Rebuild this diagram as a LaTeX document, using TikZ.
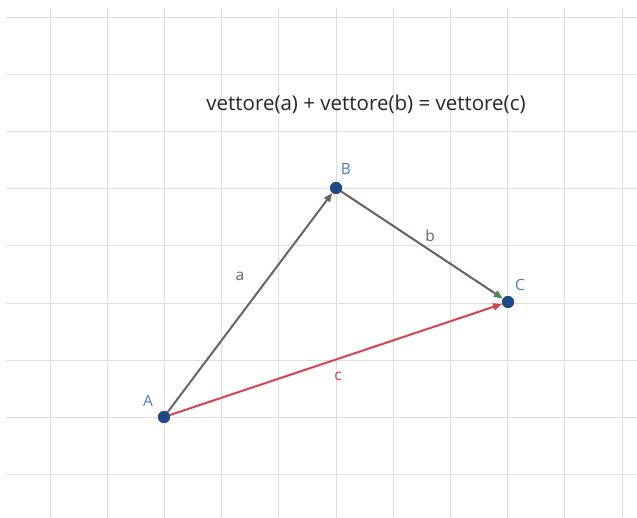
\documentclass[tikz,border=0pt]{standalone}
\usepackage{fontspec}
\setmainfont{Open Sans}
\usetikzlibrary{arrows.meta}
\definecolor{gridc}{HTML}{DEDEDE}
\definecolor{ptc}{HTML}{1F4A86}
\definecolor{lblc}{HTML}{4A7DBF}
\definecolor{vecgray}{HTML}{666666}
\definecolor{vecb}{HTML}{5E665E}
\definecolor{tipb}{HTML}{4F8A4F}
\definecolor{vecred}{HTML}{D9434E}
\tikzset{
  gridline/.style={draw=gridc, line width=1.5pt},
  pt/.style={circle, fill=ptc, inner sep=0pt, minimum size=12pt},
  ptlabel/.style={text=lblc, font=\fontsize{15.5}{18}\selectfont, inner sep=0pt},
  veclabel/.style={font=\fontsize{15.5}{18}\selectfont, inner sep=0pt},
  vec/.style={line width=2pt, -{Triangle[length=9pt,width=7pt]}},
}
\begin{document}
\begin{tikzpicture}[x=1pt,y=-1pt]
\useasboundingbox (0,0) rectangle (637,518);
\fill[white] (0,0) rectangle (637,518);
% grid
\begin{scope}
\clip (6,8) rectangle (637,518);
\foreach \k in {-2,...,8} { \draw[gridline] ({round(164+57.2*\k)+0.5},8) -- ({round(164+57.2*\k)+0.5},518); }
\foreach \k in {-1,...,7} { \draw[gridline] (6,{round(417-57.2*\k)+0.5}) -- (637,{round(417-57.2*\k)+0.5}); }
\end{scope}
% title
\node[font=\fontsize{20.5}{24}\selectfont, text=black!85, inner sep=0pt] (title) at (366,104) {vettore(a) + vettore(b) = vettore(c)};
% points
\node[pt] (A) at (164,417) {};
\node[pt] (B) at (336,188) {};
\node[pt] (C) at (508,302) {};
% vectors
\draw[vec, draw=vecgray, fill=vecgray] (A) -- (B);
\draw[vec, draw=vecb, -{Triangle[length=9pt,width=7pt,color=tipb]}] (B) -- (C);
\draw[vec, draw=vecred, fill=vecred] (A) -- (C);
% redraw points on top
\node[pt] at (A) {};
\node[pt] at (B) {};
\node[pt] at (C) {};
% labels
\node[ptlabel] (lA) at (148,401) {A};
\node[ptlabel] (lB) at (346,169) {B};
\node[ptlabel] (lC) at (520,285) {C};
\node[veclabel, text=vecgray] (la) at (240,276) {a};
\node[veclabel, text=vecgray] (lb) at (430,236) {b};
\node[veclabel, text=vecred] (lc) at (338,376) {c};
\end{tikzpicture}
\end{document}
